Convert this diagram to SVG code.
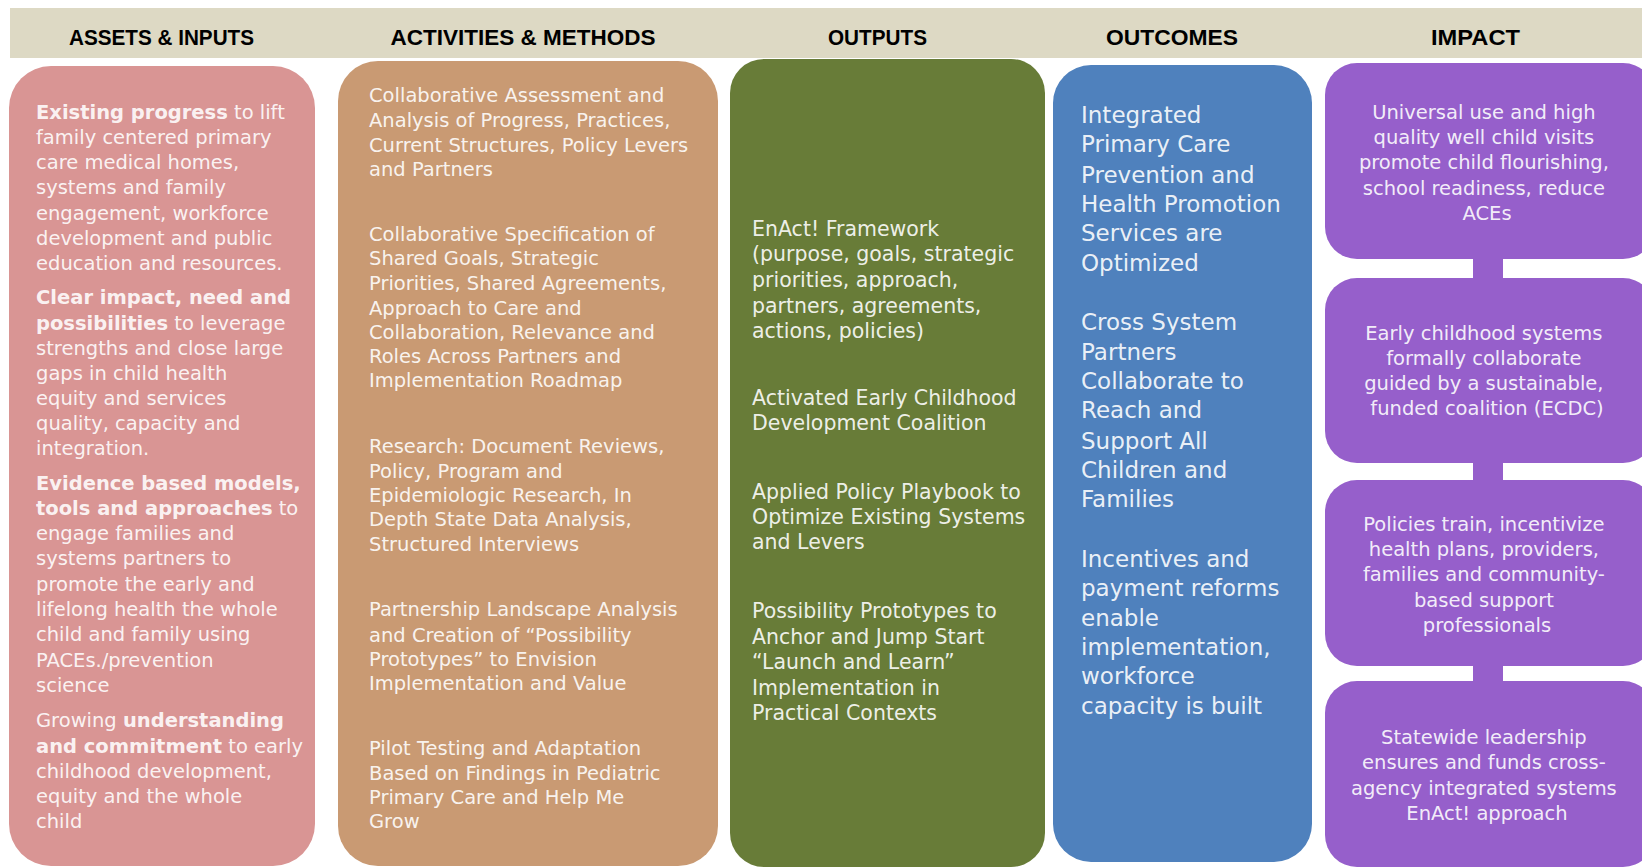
<svg xmlns="http://www.w3.org/2000/svg" width="1642" height="868" viewBox="0 0 1642 868">
<style>
.h{font-family:"Liberation Sans",Arial,sans-serif;font-weight:bold;font-size:22px;fill:#000;text-anchor:middle}
.t{font-family:"DejaVu Sans","Noto Sans",sans-serif;font-size:19.5px;fill:#fff;fill-opacity:0.9}
.g{font-size:20.5px}
.bl{font-size:23px}
.c{text-anchor:middle}
.b{font-weight:bold}
</style>
<rect x="0" y="0" width="1642" height="868" fill="#fff"/>
<g id="header">
<rect x="10" y="8" width="1640" height="50" fill="#DDD9C4"/>
<text class="h" x="161.5" y="45" textLength="185" lengthAdjust="spacingAndGlyphs">ASSETS &amp; INPUTS</text>
<text class="h" x="523" y="45" textLength="265" lengthAdjust="spacingAndGlyphs">ACTIVITIES &amp; METHODS</text>
<text class="h" x="877.5" y="45" textLength="99" lengthAdjust="spacingAndGlyphs">OUTPUTS</text>
<text class="h" x="1172" y="45" textLength="132" lengthAdjust="spacingAndGlyphs">OUTCOMES</text>
<text class="h" x="1475.5" y="45" textLength="89" lengthAdjust="spacingAndGlyphs">IMPACT</text>
</g>
<g id="connectors" fill="#965FCB">
<rect x="1473" y="254" width="30" height="30"/>
<rect x="1473" y="458" width="30" height="28"/>
<rect x="1473" y="661" width="30" height="25"/>
</g>
<g id="assets">
<rect x="9" y="66" width="306" height="800" rx="42" fill="#D99594"/>
<text class="t" x="36">
<tspan x="36" y="119"><tspan class="b">Existing progress</tspan> to lift</tspan>
<tspan x="36" y="144">family centered primary</tspan>
<tspan x="36" y="169">care medical homes,</tspan>
<tspan x="36" y="194">systems and family</tspan>
<tspan x="36" y="220">engagement, workforce</tspan>
<tspan x="36" y="245">development and public</tspan>
<tspan x="36" y="270">education and resources.</tspan>
<tspan x="36" y="304" class="b">Clear impact,  need and</tspan>
<tspan x="36" y="329.5"><tspan class="b">possibilities</tspan> to leverage</tspan>
<tspan x="36" y="355">strengths and close large</tspan>
<tspan x="36" y="380">gaps in child health</tspan>
<tspan x="36" y="405">equity and services</tspan>
<tspan x="36" y="430">quality, capacity and</tspan>
<tspan x="36" y="455">integration.</tspan>
<tspan x="36" y="490" class="b">Evidence based models,</tspan>
<tspan x="36" y="515"><tspan class="b">tools and approaches</tspan> to</tspan>
<tspan x="36" y="540">engage families and</tspan>
<tspan x="36" y="565">systems partners to</tspan>
<tspan x="36" y="591">promote the early and</tspan>
<tspan x="36" y="616">lifelong health the whole</tspan>
<tspan x="36" y="641">child and family using</tspan>
<tspan x="36" y="667">PACEs./prevention</tspan>
<tspan x="36" y="692">science</tspan>
<tspan x="36" y="727">Growing <tspan class="b">understanding</tspan></tspan>
<tspan x="36" y="752.5"><tspan class="b">and commitment</tspan> to early</tspan>
<tspan x="36" y="778">childhood development,</tspan>
<tspan x="36" y="803">equity and the whole</tspan>
<tspan x="36" y="828">child</tspan>
</text>
</g>
<g id="activities">
<rect x="338" y="61" width="380" height="805" rx="40" fill="#C99A73"/>
<text class="t" x="369">
<tspan x="369" y="102">Collaborative Assessment and</tspan>
<tspan x="369" y="126.5">Analysis of Progress, Practices,</tspan>
<tspan x="369" y="151.5">Current Structures, Policy Levers</tspan>
<tspan x="369" y="175.6">and Partners</tspan>
<tspan x="369" y="240.5">Collaborative Specification  of</tspan>
<tspan x="369" y="264.6">Shared Goals, Strategic</tspan>
<tspan x="369" y="289.7">Priorities,  Shared Agreements,</tspan>
<tspan x="369" y="314.8">Approach to Care and</tspan>
<tspan x="369" y="339">Collaboration,  Relevance and</tspan>
<tspan x="369" y="363">Roles Across Partners and</tspan>
<tspan x="369" y="387">Implementation  Roadmap</tspan>
<tspan x="369" y="453">Research: Document Reviews,</tspan>
<tspan x="369" y="478">Policy, Program and</tspan>
<tspan x="369" y="502">Epidemiologic  Research, In</tspan>
<tspan x="369" y="526">Depth State Data Analysis,</tspan>
<tspan x="369" y="550.5">Structured Interviews</tspan>
<tspan x="369" y="616.4">Partnership Landscape  Analysis</tspan>
<tspan x="369" y="641.5">and Creation of “Possibility</tspan>
<tspan x="369" y="665.6">Prototypes” to Envision</tspan>
<tspan x="369" y="689.7">Implementation  and Value</tspan>
<tspan x="369" y="754.6">Pilot Testing and Adaptation</tspan>
<tspan x="369" y="779.7">Based on Findings in Pediatric</tspan>
<tspan x="369" y="803.8">Primary Care and Help Me</tspan>
<tspan x="369" y="828">Grow</tspan>
</text>
</g>
<g id="outputs">
<rect x="730" y="59" width="315" height="808" rx="34" fill="#687C38"/>
<text class="t g" x="752">
<tspan x="752" y="236">EnAct! Framework</tspan>
<tspan x="752" y="261.4">(purpose, goals, strategic</tspan>
<tspan x="752" y="286.6">priorities, approach,</tspan>
<tspan x="752" y="312.7">partners, agreements,</tspan>
<tspan x="752" y="338">actions, policies)</tspan>
<tspan x="752" y="405">Activated Early Childhood</tspan>
<tspan x="752" y="430">Development Coalition</tspan>
<tspan x="752" y="499">Applied Policy Playbook to</tspan>
<tspan x="752" y="524">Optimize Existing Systems</tspan>
<tspan x="752" y="549">and Levers</tspan>
<tspan x="752" y="617.5">Possibility Prototypes to</tspan>
<tspan x="752" y="643.6">Anchor and Jump Start</tspan>
<tspan x="752" y="668.8">“Launch and Learn”</tspan>
<tspan x="752" y="695">Implementation in</tspan>
<tspan x="752" y="720">Practical Contexts</tspan>
</text>
</g>
<g id="outcomes">
<rect x="1053" y="65" width="259" height="797" rx="38" fill="#4F81BD"/>
<text class="t bl" x="1081">
<tspan x="1081" y="122.5">Integrated</tspan>
<tspan x="1081" y="152">Primary Care</tspan>
<tspan x="1081" y="182.5">Prevention and</tspan>
<tspan x="1081" y="211.5">Health Promotion</tspan>
<tspan x="1081" y="241">Services are</tspan>
<tspan x="1081" y="270.5">Optimized</tspan>
<tspan x="1081" y="330">Cross System</tspan>
<tspan x="1081" y="359.5">Partners</tspan>
<tspan x="1081" y="388.5">Collaborate to</tspan>
<tspan x="1081" y="418">Reach and</tspan>
<tspan x="1081" y="448.5">Support All</tspan>
<tspan x="1081" y="477.5">Children and</tspan>
<tspan x="1081" y="507">Families</tspan>
<tspan x="1081" y="566.5">Incentives and</tspan>
<tspan x="1081" y="596">payment reforms</tspan>
<tspan x="1081" y="625.5">enable</tspan>
<tspan x="1081" y="654.5">implementation,</tspan>
<tspan x="1081" y="683.5">workforce</tspan>
<tspan x="1081" y="713.5">capacity is built</tspan>
</text>
</g>
<g id="impact1">
<rect x="1325" y="63" width="330" height="196" rx="32" fill="#965FCB"/>
<text class="t c" x="1487">
<tspan x="1487" y="119">Universal use and high</tspan>
<tspan x="1487" y="144">quality well child visits</tspan>
<tspan x="1487" y="169">promote child flourishing,</tspan>
<tspan x="1487" y="194.5">school readiness, reduce</tspan>
<tspan x="1487" y="219.6">ACEs</tspan>
</text>
</g>
<g id="impact2">
<rect x="1325" y="278" width="330" height="185" rx="32" fill="#965FCB"/>
<text class="t c" x="1487">
<tspan x="1487" y="340">Early childhood systems</tspan>
<tspan x="1487" y="365">formally collaborate</tspan>
<tspan x="1487" y="390">guided  by a sustainable,</tspan>
<tspan x="1487" y="415">funded coalition (ECDC)</tspan>
</text>
</g>
<g id="impact3">
<rect x="1325" y="480" width="330" height="186" rx="32" fill="#965FCB"/>
<text class="t c" x="1487">
<tspan x="1487" y="530.6">Policies train, incentivize</tspan>
<tspan x="1487" y="555.7">health plans, providers,</tspan>
<tspan x="1487" y="581">families and community-</tspan>
<tspan x="1487" y="607">based support</tspan>
<tspan x="1487" y="632">professionals</tspan>
</text>
</g>
<g id="impact4">
<rect x="1325" y="681" width="330" height="186" rx="32" fill="#965FCB"/>
<text class="t c" x="1487">
<tspan x="1487" y="744">Statewide leadership</tspan>
<tspan x="1487" y="769">ensures and funds cross-</tspan>
<tspan x="1487" y="794.5">agency integrated systems</tspan>
<tspan x="1487" y="819.6">EnAct! approach</tspan>
</text>
</g>
</svg>
